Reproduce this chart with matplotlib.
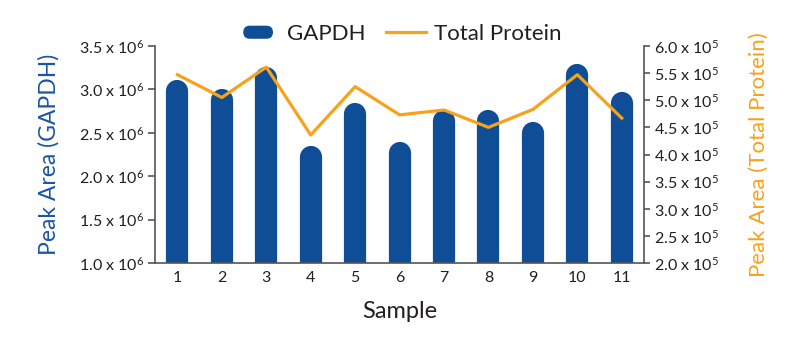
import matplotlib
matplotlib.use("Agg")
import matplotlib.pyplot as plt
from matplotlib.lines import Line2D
from matplotlib.patches import FancyBboxPatch, Patch
from matplotlib.legend_handler import HandlerPatch
from matplotlib.ticker import FixedLocator, FuncFormatter

plt.rcParams['font.family'] = ['Lato', 'DejaVu Sans']
plt.rcParams['mathtext.fontset'] = 'custom'
plt.rcParams['mathtext.rm'] = 'Lato'
plt.rcParams['mathtext.it'] = 'Lato'

samples = [1, 2, 3, 4, 5, 6, 7, 8, 9, 10, 11]
sample_labels = ['1', '2', '3', '4', '5', '6', '7', '8', '9', '10', '11']
gapdh = [3.11e6, 3.01e6, 3.26e6, 2.35e6, 2.84e6, 2.39e6, 2.76e6, 2.76e6, 2.62e6, 3.29e6, 2.97e6]
total_protein = [5.47e5, 5.05e5, 5.61e5, 4.36e5, 5.25e5, 4.73e5, 4.82e5, 4.50e5, 4.83e5, 5.47e5, 4.67e5]
left_ticks = [1.0e6, 1.5e6, 2.0e6, 2.5e6, 3.0e6, 3.5e6]
right_ticks = [2.0e5, 2.5e5, 3.0e5, 3.5e5, 4.0e5, 4.5e5, 5.0e5, 5.5e5, 6.0e5]

BLUE = '#0F4D97'
ORANGE = '#F7A21B'
GRAY = '#555555'
TXT = '#231F20'

fig = plt.figure(figsize=(8, 3.4), dpi=100)
ax = fig.add_axes([0.194, 0.226, 0.611, 0.639])
ax2 = ax.twinx()

ylo, yhi = 1.0e6, 3.5e6
ax.set_ylim(ylo, yhi)
ax.set_xlim(0.5, 11.5)

# rounded-top bars: width 0.5 data units
ax_h_px = 0.639 * 340
ax_w_px = 0.611 * 800
bar_w_px = 0.5 / 11.0 * ax_w_px
r_data = (bar_w_px / 2) / ax_h_px * (yhi - ylo)
lw_pt = bar_w_px * 72 / 100
for x, v in zip(samples, gapdh):
    ax.plot([x, x], [ylo - r_data * 2, v - r_data], color=BLUE, lw=lw_pt,
            solid_capstyle='round', zorder=2)

ax2.set_ylim(2.0e5, 6.0e5)
ax2.plot(samples, total_protein, color=ORANGE, lw=2.3, zorder=3)
ax2.set_zorder(ax.get_zorder() + 1)
ax2.patch.set_visible(False)

def fmt(exp):
    def f(v, pos):
        return r'%.1f x 10$^{%d}$' % (v / 10**exp, exp)
    return f

ax.yaxis.set_major_locator(FixedLocator(left_ticks))
ax.yaxis.set_major_formatter(FuncFormatter(fmt(6)))
ax2.yaxis.set_major_locator(FixedLocator(right_ticks))
ax2.yaxis.set_major_formatter(FuncFormatter(fmt(5)))
ax.set_xticks(samples)
ax.set_xticklabels(sample_labels)

for a in (ax, ax2):
    a.spines['top'].set_visible(False)
    for s in ('left', 'right', 'bottom'):
        a.spines[s].set_color(GRAY)
        a.spines[s].set_linewidth(1.2)
ax.spines['right'].set_visible(False)
ax2.spines['left'].set_visible(False)
ax2.spines['bottom'].set_visible(False)

ax.tick_params(axis='y', length=5, width=1.2, color=GRAY, labelsize=11.5, labelcolor=TXT, pad=3)
ax2.tick_params(axis='y', length=4, width=1.2, color=GRAY, labelsize=11.5, labelcolor=TXT, pad=3)
ax.tick_params(axis='x', length=0, labelsize=11.5, labelcolor=TXT, pad=6)

ax.set_xlabel('Sample', fontsize=17, color=TXT, labelpad=11)
ax.set_ylabel('Peak Area (GAPDH)', fontsize=16.5, color='#1A55A5', labelpad=14)
ax2.set_ylabel('Peak Area (Total Protein)', fontsize=16, color=ORANGE, labelpad=22)


def pill(legend, orig_handle, xdescent, ydescent, width, height, fontsize):
    h = height * 0.75
    return FancyBboxPatch((-xdescent + h / 2, -ydescent + (height - h) / 2),
                          width - h, h, boxstyle='round,pad=0,rounding_size=%f' % (h / 2),
                          mutation_aspect=1)


handles = [Patch(color=BLUE),
           Line2D([0], [0], color=ORANGE, lw=2.3)]
fig.legend(handles, ['GAPDH', 'Total Protein'], loc='center', bbox_to_anchor=(0.5, 0.9),
           ncol=2, frameon=False, fontsize=16, handlelength=1.8, columnspacing=0.9,
           handletextpad=0.4, handler_map={Patch: HandlerPatch(patch_func=pill)})
for t in fig.legends[0].get_texts():
    t.set_color(TXT)

fig.savefig('out.png', dpi=100)
